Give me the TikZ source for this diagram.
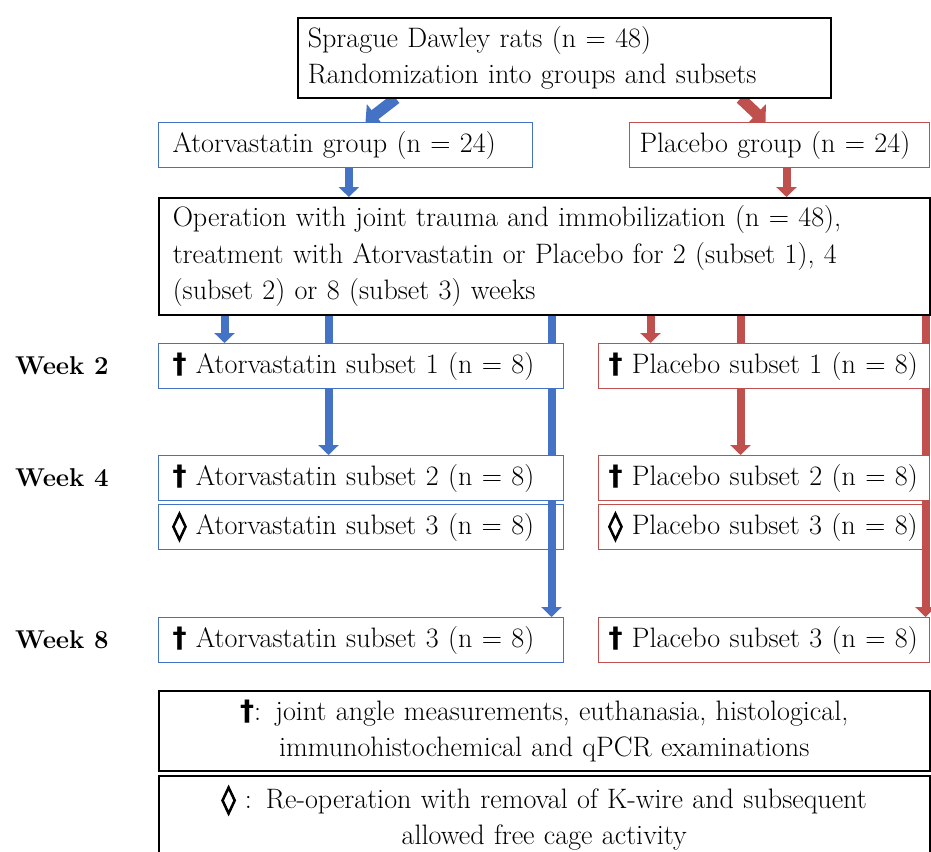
\documentclass[tikz,border=0pt]{standalone}
\usepackage{fontspec}
\newfontfamily\symfont{DejaVu Sans}
\newfontfamily\symbold[FakeBold=4]{DejaVu Sans}
\usetikzlibrary{arrows.meta,backgrounds}
\definecolor{atorblue}{RGB}{68,114,196}
\definecolor{placred}{RGB}{192,80,77}
\newcommand{\dg}{{\symfont\bfseries †}}
\newcommand{\lz}{{\symbold ◊}}
\tikzset{
  box/.style={draw=black, line width=0.45mm, fill=white, anchor=north west,
    inner xsep=4.2mm, inner ysep=0pt, align=left,
    font=\fontsize{24}{31}\selectfont},
  bluebox/.style={box, draw=atorblue, line width=0.3mm},
  redbox/.style={box, draw=placred, line width=0.3mm, inner xsep=3mm},
  week/.style={anchor=west, inner sep=0pt, font=\fontsize{22}{26}\selectfont\bfseries},
  barrow/.style={draw=atorblue, line width=2.4mm, -{Triangle[length=3mm,width=6mm]}},
  rarrow/.style={barrow, draw=placred},
  diag/.style={line width=3.4mm, -{Triangle[length=3.6mm,width=7.8mm]}},
}
\begin{document}
\begin{tikzpicture}[x=0.3mm, y=-0.3mm]
  \useasboundingbox (0,0) rectangle (931,851);
  % top of the flow
  \node[box, inner xsep=3mm, text width=153.9mm, minimum height=24mm] (top) at (297,17)
    {Sprague Dawley rats (n = 48)\\Randomization into groups and subsets};
  \node[bluebox, text width=103.8mm, minimum height=13.5mm] (ago) at (158,122) {Atorvastatin group (n = 24)};
  \node[redbox, text width=84mm, minimum height=13.5mm] (pgo) at (629,122) {Placebo group (n = 24)};
  \node[box, text width=222.9mm, minimum height=35.1mm] (op) at (158,197)
    {Operation with joint trauma and immobilization (n = 48),\\
     treatment with Atorvastatin or Placebo for 2 (subset 1), 4\\
     (subset 2) or 8 (subset 3) weeks};
  % weeks
  \node[week] (w2) at (15,366) {Week 2};
  \node[week] (w4) at (15,478) {Week 4};
  \node[week] (w8) at (15,640) {Week 8};
  \node[bluebox, text width=113.1mm, minimum height=13.5mm] (a1) at (158,343) {\dg\ Atorvastatin subset 1 (n = 8)};
  \node[redbox, text width=93.3mm, minimum height=13.5mm] (p1) at (598,343) {\dg\ Placebo subset 1 (n = 8)};
  \node[bluebox, text width=113.1mm, minimum height=13.5mm] (a2) at (158,455) {\dg\ Atorvastatin subset 2 (n = 8)};
  \node[redbox, text width=93.3mm, minimum height=13.5mm] (p2) at (598,455) {\dg\ Placebo subset 2 (n = 8)};
  \node[bluebox, fill=none, text width=113.1mm, minimum height=13.5mm] (a3) at (158,504) {\lz\ Atorvastatin subset 3 (n = 8)};
  \node[redbox, fill=none, text width=93.3mm, minimum height=13.5mm] (p3) at (598,504) {\lz\ Placebo subset 3 (n = 8)};
  \node[bluebox, text width=113.1mm, minimum height=13.5mm] (a8) at (158,617) {\dg\ Atorvastatin subset 3 (n = 8)};
  \node[redbox, text width=93.3mm, minimum height=13.5mm] (p8) at (598,617) {\dg\ Placebo subset 3 (n = 8)};
  % legend
  \node[box, align=center, text width=222.9mm, minimum height=24mm] (leg1) at (158,690)
    {\dg: joint angle measurements, euthanasia, histological,\\immunohistochemical and qPCR examinations};
  \node[box, align=center, text width=222.9mm, minimum height=25.5mm] (leg2) at (158,775)
    {\lz\ : Re-operation with removal of K-wire and subsequent\\allowed free cage activity};
  \begin{scope}[on background layer]
    \draw[barrow, diag] ([xshift=-50.5mm]top.south) -- ([xshift=6mm]ago.north);
    \draw[rarrow, diag] ([xshift=52.9mm]top.south) -- ([xshift=-4.2mm]pgo.north);
    \draw[barrow] ([xshift=1mm]ago.south) -- ([xshift=1mm]ago.south |- op.north);
    \draw[rarrow] ([xshift=2.1mm]pgo.south) -- ([xshift=2.1mm]pgo.south |- op.north);
    \draw[barrow] ([xshift=-40.95mm]a1.north |- op.south) -- ([xshift=-40.95mm]a1.north);
    \draw[barrow] ([xshift=-9.75mm]a2.north |- op.south) -- ([xshift=-9.75mm]a2.north);
    \draw[barrow] ([xshift=57.15mm]a8.north |- op.south) -- ([xshift=57.15mm]a8.north);
    \draw[rarrow] ([xshift=-34.05mm]p1.north |- op.south) -- ([xshift=-34.05mm]p1.north);
    \draw[rarrow] ([xshift=-7.05mm]p2.north |- op.south) -- ([xshift=-7.05mm]p2.north);
    \draw[rarrow] ([xshift=48.45mm]p8.north |- op.south) -- ([xshift=48.45mm]p8.north);
  \end{scope}
\end{tikzpicture}
\end{document}
